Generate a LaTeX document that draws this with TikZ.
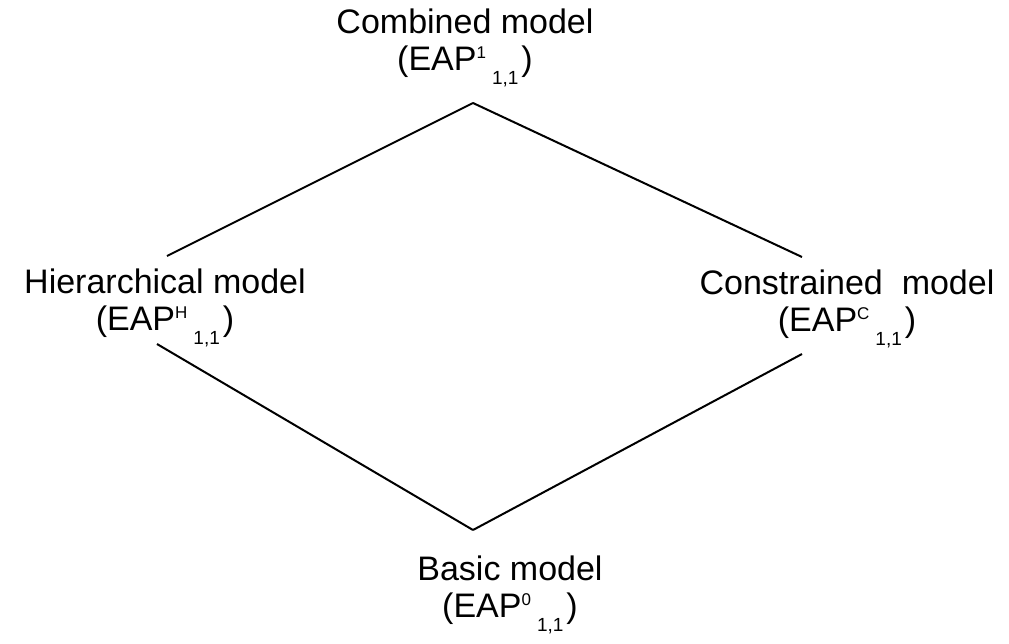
\documentclass[tikz,border=0pt]{standalone}
\usepackage{fontspec}
\setmainfont{Liberation Sans}
\newcommand{\eapl}[1]{(EAP\raisebox{12pt}{\fontsize{17}{17}\selectfont #1}\kern6pt\raisebox{-14pt}{\fontsize{19}{19}\selectfont 1,1}\kern3pt)}
\tikzset{model/.style={align=center, anchor=north, inner sep=0pt, font=\fontsize{34}{37}\selectfont}}
\begin{document}
\begin{tikzpicture}[x=1pt, y=-1pt, line width=2pt]
          \useasboundingbox (0,0) rectangle (1009,643);
          \node[model] (comb) at (465, 8) {Combined model\\\eapl{1}};
          \node[model] (hier) at (165, 268) {Hierarchical model\\\eapl{H}};
          \node[model] (cons) at (847, 269) {Constrained~ model\\\eapl{C}};
          \node[model] (basic) at (510, 555) {Basic model\\\eapl{0}};
          \coordinate (T) at (473, 103);
          \coordinate (B) at (473, 530);
          \coordinate (LT) at (167, 256);
          \coordinate (RT) at (802, 257);
          \coordinate (LB) at (157, 344);
          \coordinate (RB) at (802, 354);
          \draw (LT) -- (T);
          \draw (T) -- (RT);
          \draw (LB) -- (B);
          \draw (B) -- (RB);
        \end{tikzpicture}
\end{document}
